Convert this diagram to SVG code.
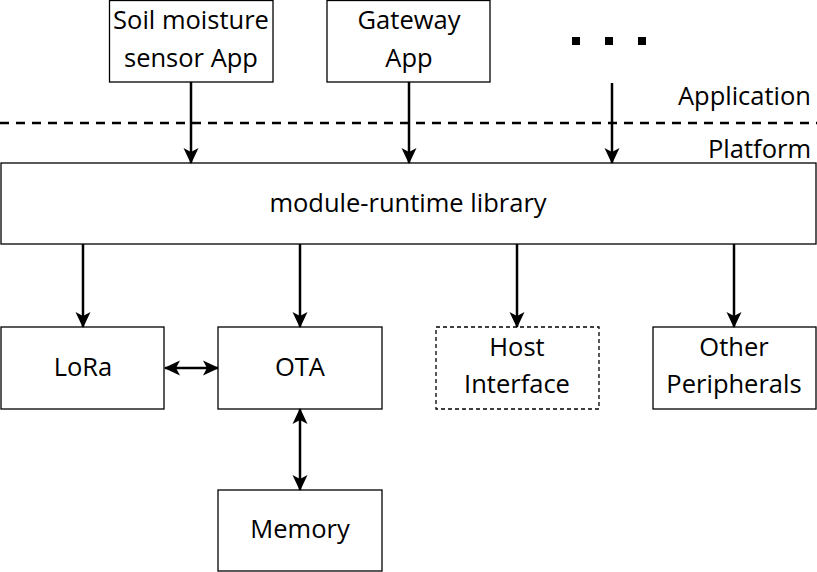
<svg xmlns="http://www.w3.org/2000/svg" width="817" height="572" viewBox="0 0 817 572">
<style>
.box{fill:#fff;stroke:#000;stroke-width:1.3}
.dash{fill:#fff;stroke:#000;stroke-width:1.3;stroke-dasharray:4 3}
text{font-family:"Open Sans","Liberation Sans",sans-serif;font-size:25.5px;fill:#000;text-anchor:middle}
.r{text-anchor:end}
.c{stroke:#000;stroke-width:2.5;fill:none}
</style>
<defs>
<marker id="ah" viewBox="0 0 16 16" refX="15" refY="8" markerWidth="16" markerHeight="16" markerUnits="userSpaceOnUse" orient="auto-start-reverse">
<path d="M0,0.5 L16,8 L0,15.5 L4,8 Z" fill="#000"/>
</marker>
</defs>
<line x1="0" y1="123" x2="817" y2="123" stroke="#000" stroke-width="2.5" stroke-dasharray="9 7"/>
<text class="r" x="811" y="105">Application</text>
<text class="r" x="811" y="158">Platform</text>
<g id="dots">
<rect x="572" y="37" width="8" height="8" fill="#000"/>
<rect x="605" y="37" width="8" height="8" fill="#000"/>
<rect x="638" y="37" width="8" height="8" fill="#000"/>
</g>
<g id="soil"><rect class="box" x="109.5" y="0.5" width="163.5" height="81.5"/><text x="191" y="29">Soil moisture</text><text x="191" y="67">sensor App</text></g>
<g id="gateway"><rect class="box" x="327" y="0.5" width="163" height="81.5"/><text x="409" y="29">Gateway</text><text x="409" y="67">App</text></g>
<g id="runtime"><rect class="box" x="1" y="163" width="815" height="81"/><text x="408" y="212">module-runtime library</text></g>
<g id="lora"><rect class="box" x="1" y="327" width="163" height="82"/><text x="83" y="376">LoRa</text></g>
<g id="ota"><rect class="box" x="218" y="327" width="164" height="82"/><text x="300" y="376">OTA</text></g>
<g id="host"><rect class="dash" x="436" y="327" width="163" height="82"/><text x="517" y="356">Host</text><text x="517" y="393">Interface</text></g>
<g id="other"><rect class="box" x="653" y="327" width="163" height="82"/><text x="734" y="356">Other</text><text x="734" y="393">Peripherals</text></g>
<g id="memory"><rect class="box" x="218" y="490" width="164" height="81"/><text x="300" y="538">Memory</text></g>
<g id="connectors">
<line class="c" x1="191" y1="82" x2="191" y2="163" marker-end="url(#ah)"/>
<line class="c" x1="409" y1="82" x2="409" y2="163" marker-end="url(#ah)"/>
<line class="c" x1="612" y1="83" x2="612" y2="163" marker-end="url(#ah)"/>
<line class="c" x1="83" y1="244" x2="83" y2="327" marker-end="url(#ah)"/>
<line class="c" x1="300" y1="244" x2="300" y2="327" marker-end="url(#ah)"/>
<line class="c" x1="517" y1="244" x2="517" y2="327" marker-end="url(#ah)"/>
<line class="c" x1="734" y1="244" x2="734" y2="327" marker-end="url(#ah)"/>
<line class="c" x1="165" y1="368" x2="218" y2="368" marker-start="url(#ah)" marker-end="url(#ah)"/>
<line class="c" x1="300" y1="409" x2="300" y2="490" marker-start="url(#ah)" marker-end="url(#ah)"/>
</g>
</svg>
